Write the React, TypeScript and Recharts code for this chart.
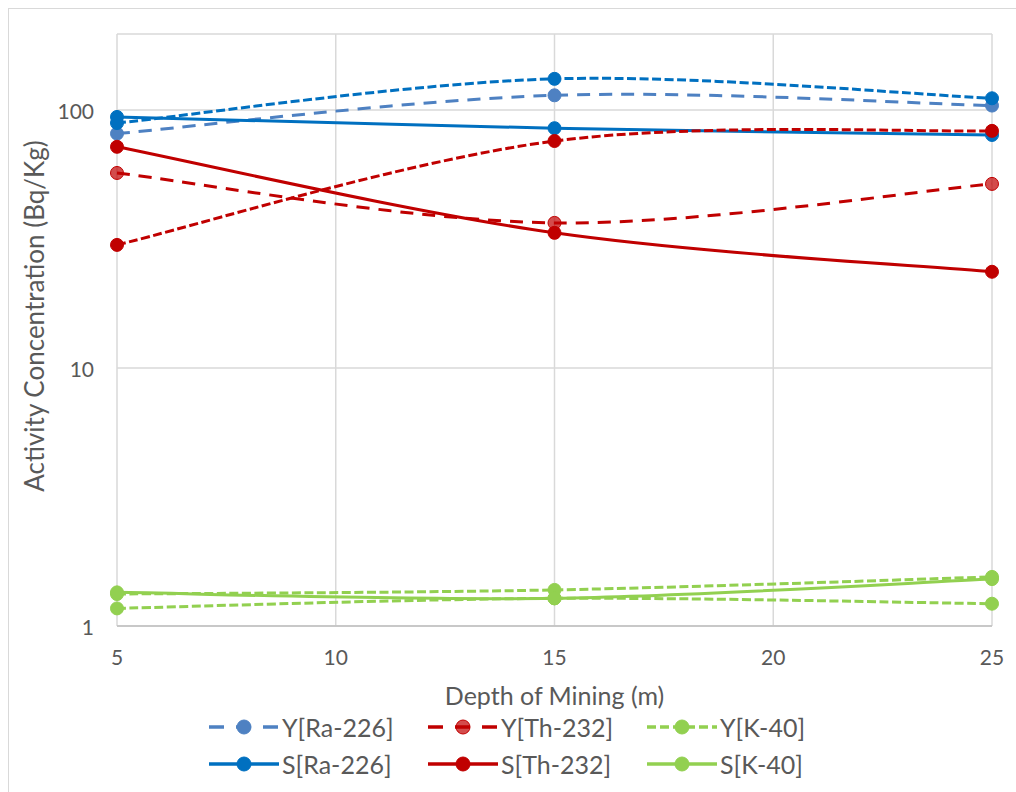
import React from 'react';
import { CartesianGrid, Line, LineChart, XAxis, YAxis } from 'recharts';

// depth of mining (m) and activity concentration (Bq/Kg)
const depths = [5, 15, 25];
const yRa226 = [81, 114, 104];
const yTh232 = [57, 36.5, 51.7];
const yK40 = [1.33, 1.38, 1.55];
const sRa226 = [94, 85, 80];
const sTh232 = [72, 33.4, 23.6];
const sK40 = [1.35, 1.28, 1.52];
// third group: drawn in the plot, its legend row is cut off in the original
const tRa226 = [89, 132, 111];
const tTh232 = [30, 75.8, 83];
const tK40 = [1.17, 1.28, 1.22];

const xTicks = [5, 10, 15, 20, 25];
const yTicks = [1, 10, 100];

const LIGHT_BLUE = '#4e81c2';
const BLUE = '#0070c0';
const RED = '#c00000';
const GREEN = '#92d050';

type Series = {
  key: string;
  name: string;
  values: number[];
  color: string;
  dash?: 'long' | 'short';
  fillOpacity?: number;
  legend: boolean;
};

const series: Series[] = [
  { key: 'yRa', name: 'Y[Ra-226]', values: yRa226, color: LIGHT_BLUE, dash: 'long', legend: true },
  { key: 'yTh', name: 'Y[Th-232]', values: yTh232, color: RED, dash: 'long', fillOpacity: 0.7, legend: true },
  { key: 'yK', name: 'Y[K-40]', values: yK40, color: GREEN, dash: 'short', legend: true },
  { key: 'sRa', name: 'S[Ra-226]', values: sRa226, color: BLUE, legend: true },
  { key: 'sTh', name: 'S[Th-232]', values: sTh232, color: RED, legend: true },
  { key: 'sK', name: 'S[K-40]', values: sK40, color: GREEN, legend: true },
  { key: 'tRa', name: 'T[Ra-226]', values: tRa226, color: BLUE, dash: 'short', legend: false },
  { key: 'tTh', name: 'T[Th-232]', values: tTh232, color: RED, dash: 'short', legend: false },
  { key: 'tK', name: 'T[K-40]', values: tK40, color: GREEN, dash: 'short', legend: false },
];

const plotDash = { long: '13 9', short: '9 3.5' };
const legendDash = { long: '15 12', short: '9 4' };

const rows = depths.map((depth, i) => {
  const row: Record<string, number> = { depth };
  series.forEach((s) => {
    row[s.key] = s.values[i];
  });
  return row;
});

// Excel-style smoothed line: cubic beziers with catmull-rom tangents (1/6)
const smoothCurve = (context: any) => {
  let pts: number[][] = [];
  return {
    areaStart() {},
    areaEnd() {},
    lineStart() {
      pts = [];
    },
    point(x: number, y: number) {
      pts.push([+x, +y]);
    },
    lineEnd() {
      const n = pts.length;
      if (!n) return;
      context.moveTo(pts[0][0], pts[0][1]);
      for (let i = 0; i < n - 1; i++) {
        const p0 = pts[Math.max(i - 1, 0)];
        const p1 = pts[i];
        const p2 = pts[i + 1];
        const p3 = pts[Math.min(i + 2, n - 1)];
        context.bezierCurveTo(
          p1[0] + (p2[0] - p0[0]) / 6,
          p1[1] + (p2[1] - p0[1]) / 6,
          p2[0] - (p3[0] - p1[0]) / 6,
          p2[1] - (p3[1] - p1[1]) / 6,
          p2[0],
          p2[1],
        );
      }
    },
  };
};

const FONT = 'Lato, "Open Sans", sans-serif';
const TEXT = '#595959';

function LegendIcon({ s }: { s: Series }) {
  return (
    <svg width={70} height={18} style={{ display: 'block' }}>
      <line x1={0} y1={9} x2={70} y2={9} stroke={s.color} strokeWidth={3.5} strokeDasharray={s.dash ? legendDash[s.dash] : undefined} />
      <circle cx={35} cy={9} r={7} fill={s.color} fillOpacity={s.fillOpacity ?? 1} stroke={s.color} strokeWidth={1} />
    </svg>
  );
}

export default function App() {
  const legendItems = series.filter((s) => s.legend);
  return (
    <div style={{ position: 'absolute', left: 0, top: 0, width: 1016, height: 792, background: '#fff', overflow: 'hidden', fontFamily: FONT }}>
      <div style={{ position: 'absolute', left: 8, top: 8, width: 1100, height: 900, border: '1.5px solid #d9d9d9' }} />
      <LineChart width={1016} height={792} data={rows} margin={{ top: 34, right: 24, bottom: 0, left: 0 }} style={{ position: 'absolute', left: 0, top: 0 }}>
        <CartesianGrid stroke="#d9d9d9" strokeWidth={1.5} />
        <XAxis
          dataKey="depth"
          type="number"
          domain={[5, 25]}
          ticks={xTicks}
          height={166}
          tickSize={0}
          tickMargin={24}
          axisLine={{ stroke: '#bfbfbf', strokeWidth: 1.5 }}
          tick={{ fill: TEXT, fontSize: 21, fontFamily: FONT }}
          label={(p: any) => (
            <text x={p.viewBox.x + p.viewBox.width / 2} y={p.viewBox.y + 79} textAnchor="middle" fill={TEXT} fontSize={25} fontFamily={FONT}>
              Depth of Mining (m)
            </text>
          )}
        />
        <YAxis
          type="number"
          scale="log"
          domain={[1, 197]}
          ticks={yTicks}
          allowDataOverflow
          width={117}
          tickSize={0}
          tickMargin={23}
          axisLine={false}
          tick={{ fill: TEXT, fontSize: 21, fontFamily: FONT, dy: 1.5 }}
          label={(p: any) => {
            const cx = p.viewBox.x + 34;
            const cy = p.viewBox.y + p.viewBox.height / 2 - 14;
            return (
              <text x={cx} y={cy} transform={`rotate(-90 ${cx} ${cy})`} textAnchor="middle" dominantBaseline="central" fill={TEXT} fontSize={26} fontFamily={FONT}>
                Activity Concentration (Bq/Kg)
              </text>
            );
          }}
        />
        {series.map((s) => (
          <Line
            key={s.key}
            dataKey={s.key}
            name={s.name}
            type={smoothCurve as any}
            stroke={s.color}
            strokeWidth={3}
            strokeDasharray={s.dash ? plotDash[s.dash] : undefined}
            dot={{ r: 6.5, fill: s.color, fillOpacity: s.fillOpacity ?? 1, stroke: s.color, strokeWidth: 1, strokeDasharray: '' }}
            activeDot={false}
            legendType={s.legend ? 'line' : 'none'}
            isAnimationActive={false}
          />
        ))}
      </LineChart>
      {legendItems.map((s, i) => {
        const col = i % 3;
        const row = Math.floor(i / 3);
        return (
          <div
            key={s.key}
            style={{ position: 'absolute', left: 209 + col * 219, top: 712 + row * 37, height: 30, display: 'flex', alignItems: 'center', gap: 3, color: TEXT, fontSize: 25, whiteSpace: 'nowrap' }}
          >
            <LegendIcon s={s} />
            <span>{s.name}</span>
          </div>
        );
      })}
    </div>
  );
}
